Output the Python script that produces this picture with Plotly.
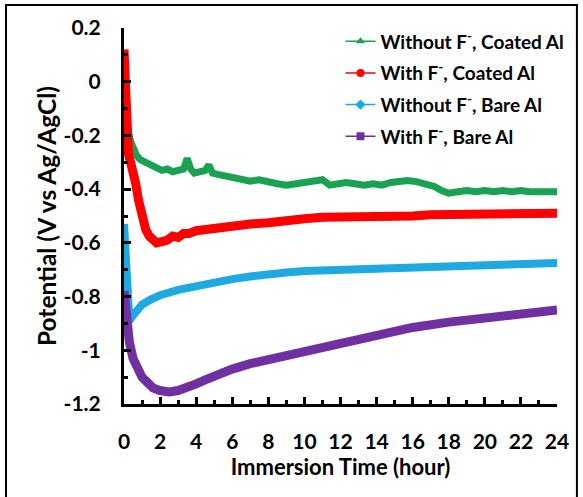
import plotly.graph_objects as go

# ---- data (hours, V vs Ag/AgCl) ----
green_t = [0.0, 0.05, 0.1, 0.2, 0.35, 0.5, 0.7, 0.9, 1.2, 1.5, 1.8, 2.1, 2.4, 2.7, 3.0, 3.3, 3.5, 3.7, 3.9,
           4.2, 4.5, 4.7, 4.9, 5.2, 5.5, 6.0, 6.5, 7.0, 7.5, 8.0, 8.5, 9.0, 9.5, 10.0, 10.5, 11.0, 11.4, 11.8,
           12.3, 12.8, 13.3, 13.8, 14.3, 14.8, 15.3, 15.7, 16.2, 16.7, 17.2, 17.6, 18.0, 18.5, 19.0, 19.5,
           20.0, 20.5, 21.0, 21.5, 22.0, 22.5, 23.0, 23.5, 24.0]
green_v = [-0.03, -0.08, -0.13, -0.17, -0.22, -0.25, -0.275, -0.29, -0.30, -0.315, -0.32, -0.33, -0.325, -0.335,
           -0.33, -0.325, -0.285, -0.325, -0.34, -0.335, -0.33, -0.31, -0.34, -0.345, -0.35, -0.355, -0.36,
           -0.37, -0.365, -0.375, -0.38, -0.385, -0.38, -0.375, -0.37, -0.365, -0.385, -0.38, -0.375, -0.38,
           -0.385, -0.38, -0.385, -0.375, -0.37, -0.368, -0.372, -0.38, -0.39, -0.405, -0.415, -0.41, -0.405,
           -0.41, -0.405, -0.41, -0.405, -0.41, -0.405, -0.41, -0.41, -0.405, -0.41]

red_t = [0.0, 0.03, 0.06, 0.1, 0.15, 0.25, 0.4, 0.5, 0.65, 0.8, 1.0, 1.2, 1.4, 1.6, 1.8, 2.1, 2.4, 2.7, 3.0,
         3.3, 3.6, 4.0, 4.5, 5.0, 5.5, 6.0, 7.0, 8.0, 9.0, 10.0, 11.0, 12.0, 13.0, 14.0, 15.0, 16.0, 17.0,
         18.0, 19.0, 20.0, 21.0, 22.0, 23.0, 24.0]
red_v = [0.12, 0.05, -0.05, -0.15, -0.22, -0.27, -0.31, -0.33, -0.38, -0.44, -0.50, -0.55, -0.575, -0.595,
         -0.60, -0.595, -0.59, -0.575, -0.58, -0.565, -0.565, -0.555, -0.55, -0.545, -0.54, -0.535, -0.53,
         -0.525, -0.515, -0.51, -0.505, -0.505, -0.50, -0.505, -0.50, -0.50, -0.495, -0.495, -0.495, -0.49,
         -0.495, -0.49, -0.49, -0.49]

cyan_t = [0.0, 0.05, 0.1, 0.15, 0.2, 0.3, 0.5, 0.8, 1.0, 1.5, 2.0, 3.0, 4.0, 5.0, 6.0, 7.0, 8.0, 9.0, 10.0,
          12.0, 14.0, 16.0, 18.0, 20.0, 22.0, 24.0]
cyan_v = [-0.53, -0.60, -0.70, -0.80, -0.87, -0.89, -0.87, -0.845, -0.83, -0.81, -0.795, -0.775, -0.76,
          -0.745, -0.735, -0.725, -0.715, -0.71, -0.705, -0.70, -0.695, -0.69, -0.69, -0.685, -0.68, -0.675]

purple_t = [0.0, 0.05, 0.1, 0.2, 0.3, 0.5, 0.8, 1.0, 1.3, 1.6, 2.0, 2.5, 3.0, 3.5, 4.0, 4.5, 5.0, 5.5, 6.0,
            7.0, 8.0, 9.0, 10.0, 12.0, 13.0, 14.0, 16.0, 18.0, 20.0, 22.0, 24.0]
purple_v = [-0.78, -0.82, -0.88, -0.93, -0.97, -1.03, -1.08, -1.10, -1.12, -1.14, -1.15, -1.155, -1.15,
            -1.14, -1.125, -1.11, -1.095, -1.08, -1.07, -1.05, -1.035, -1.02, -1.005, -0.975, -0.96, -0.945,
            -0.915, -0.895, -0.88, -0.865, -0.85]

names = ["Without F<sup>-</sup>, Coated Al", "With F<sup>-</sup>, Coated Al",
         "Without F<sup>-</sup>, Bare Al", "With F<sup>-</sup>, Bare Al"]
colors = ["#1aa152", "#ff0000", "#1ea9e1", "#7030a0"]
symbols = ["triangle-up", "circle", "diamond", "square"]
band_widths = [7, 9, 8, 9]

y_tickvals = [0.2, 0.0, -0.2, -0.4, -0.6, -0.8, -1.0, -1.2]
y_ticktext = ["0.2", "0", "-0.2", "-0.4", "-0.6", "-0.8", "-1", "-1.2"]
x_tickvals = list(range(0, 25, 2))
x_ticktext = [str(v) for v in x_tickvals]

series = [(green_t, green_v), (red_t, red_v), (cyan_t, cyan_v), (purple_t, purple_v)]

fig = go.Figure()
for (t, v), c, w in zip(series, colors, band_widths):
    fig.add_trace(go.Scatter(x=t, y=v, mode="lines", line=dict(color=c, width=w),
                             showlegend=False, hoverinfo="skip"))
for i, (n, c, s) in enumerate(zip(names, colors, symbols)):
    fig.add_trace(go.Scatter(x=[None], y=[None], mode="lines+markers", name=n,
                             line=dict(color=c, width=1.5),
                             marker=dict(color=c, symbol=s, size=8),
                             legendgroup=str(i)))

font_family = "Lato, Roboto, sans-serif"

fig.update_layout(
    width=583, height=497,
    margin=dict(l=124, r=26, t=28, b=93, autoexpand=False),
    paper_bgcolor="white", plot_bgcolor="white",
    font=dict(family=font_family, size=21, color="black", weight="bold"),
    showlegend=True,
    legend=dict(x=0.5, y=1.015, xanchor="left", yanchor="top", bgcolor="rgba(0,0,0,0)",
                font=dict(size=19, family=font_family, color="black", weight="bold"),
                tracegroupgap=4, traceorder="grouped"),
    xaxis=dict(range=[0, 24], tickvals=x_tickvals, ticktext=x_ticktext, automargin=False,
               showgrid=False, zeroline=False, showline=True, linecolor="black", linewidth=3,
               ticks="inside", ticklen=7, tickwidth=3, tickcolor="black",
               minor=dict(ticks="inside", dtick=1, ticklen=4, tickwidth=3, tickcolor="black"),
               ticklabelstandoff=17, tickfont=dict(size=21),
               title=dict(text="Immersion Time (hour)", standoff=8,
                          font=dict(size=22, family=font_family, weight="bold"))),
    yaxis=dict(range=[-1.2, 0.2], tickvals=y_tickvals, ticktext=y_ticktext, automargin=False,
               showgrid=False, zeroline=False, showline=True, linecolor="black", linewidth=3,
               ticks="inside", ticklen=7, tickwidth=3, tickcolor="black",
               minor=dict(ticks="inside", dtick=0.1, ticklen=4, tickwidth=3, tickcolor="black"),
               ticklabelstandoff=16, tickfont=dict(size=21),
               title=dict(text="Potential (V vs Ag/AgCl)", standoff=1,
                          font=dict(size=24.5, family=font_family, weight="bold"))),
    shapes=[dict(type="rect", xref="paper", yref="paper",
                 x0=-0.2725, x1=1.046, y0=-0.35, y1=1.061,
                 line=dict(color="black", width=2), fillcolor="rgba(0,0,0,0)", layer="below")],
)

fig.write_html("out.html", config={"displayModeBar": False},
               post_script="document.body.style.margin='0';")
